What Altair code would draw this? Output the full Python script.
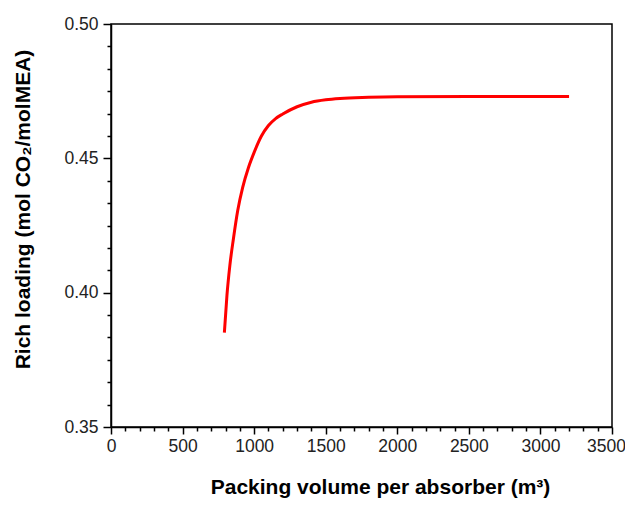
import altair as alt
import pandas as pd

# Data
volume = [792, 810, 830, 855, 885, 920, 960, 1000, 1050, 1100, 1150, 1200,
          1300, 1400, 1500, 1600, 1800, 2000, 2500, 3200]
loading = [0.3851, 0.3990, 0.4100, 0.4200, 0.4305, 0.4392, 0.4465, 0.4522, 0.4582, 0.4622,
           0.4648, 0.4665, 0.4692, 0.4709, 0.4718, 0.4723, 0.4727, 0.4729, 0.4730, 0.4730]

x_ticks = list(range(0, 3501, 100))
y_ticks = [round(0.35 + k * 0.05 / 6, 6) for k in range(19)]

df = pd.DataFrame({"volume": volume, "loading": loading})

x_major = "datum.value % 500 === 0"
y_major = "abs(datum.value * 20 - round(datum.value * 20)) < 1e-6"

x_axis = alt.Axis(
    values=x_ticks,
    labelExpr=f"{x_major} ? format(datum.value, 'd') : ''",
    tickSize={"condition": {"test": x_major, "value": 7}, "value": 4},
    labelOffset={"condition": {"test": "datum.value === 3500", "value": -6}, "value": 0},
    labelFlush=False,
    labelOverlap=False,
    grid=False,
    domainColor="black",
    domainWidth=1.5,
    tickColor="black",
    tickWidth=1.5,
    labelFont="Liberation Sans",
    labelFontSize=17.5,
    labelColor="#222222",
    labelPadding=3,
    title="Packing volume per absorber (m³)",
    titleFont="Liberation Sans",
    titleFontSize=21,
    titleFontWeight="bold",
    titleColor="black",
    titleX=269,
    titleY=66,
    titleBaseline="alphabetic",
)

y_axis = alt.Axis(
    values=y_ticks,
    labelExpr=f"{y_major} ? format(datum.value, '.2f') : ''",
    tickSize={"condition": {"test": y_major, "value": 8}, "value": 4},
    labelFlush=False,
    labelOverlap=False,
    grid=False,
    domainColor="black",
    domainWidth=1.5,
    tickColor="black",
    tickWidth=1.5,
    labelFont="Liberation Sans",
    labelFontSize=17.5,
    labelColor="#222222",
    labelPadding=5,
    title="Rich loading (mol CO₂/molMEA)",
    titleFont="Liberation Sans",
    titleFontSize=21,
    titleFontWeight="bold",
    titleColor="black",
    titleX=-88,
    titleY=185,
    titleAngle=-90,
    titleAlign="center",
    titleBaseline="middle",
)

chart = (
    alt.Chart(df)
    .mark_line(color="#ff0000", strokeWidth=3, interpolate="monotone")
    .encode(
        x=alt.X("volume:Q", scale=alt.Scale(domain=[0, 3500], nice=False, zero=False), axis=x_axis),
        y=alt.Y("loading:Q", scale=alt.Scale(domain=[0.35, 0.50], nice=False, zero=False), axis=y_axis),
    )
    .properties(
        width=501,
        height=403,
        autosize=alt.AutoSizeParams(type="none"),
        padding={"left": 103, "top": 16, "right": 13, "bottom": 71},
        background="white",
    )
    .configure_view(stroke="black", strokeWidth=1.5)
)

chart.save("out.html", embed_options={"renderer": "svg", "actions": False})
